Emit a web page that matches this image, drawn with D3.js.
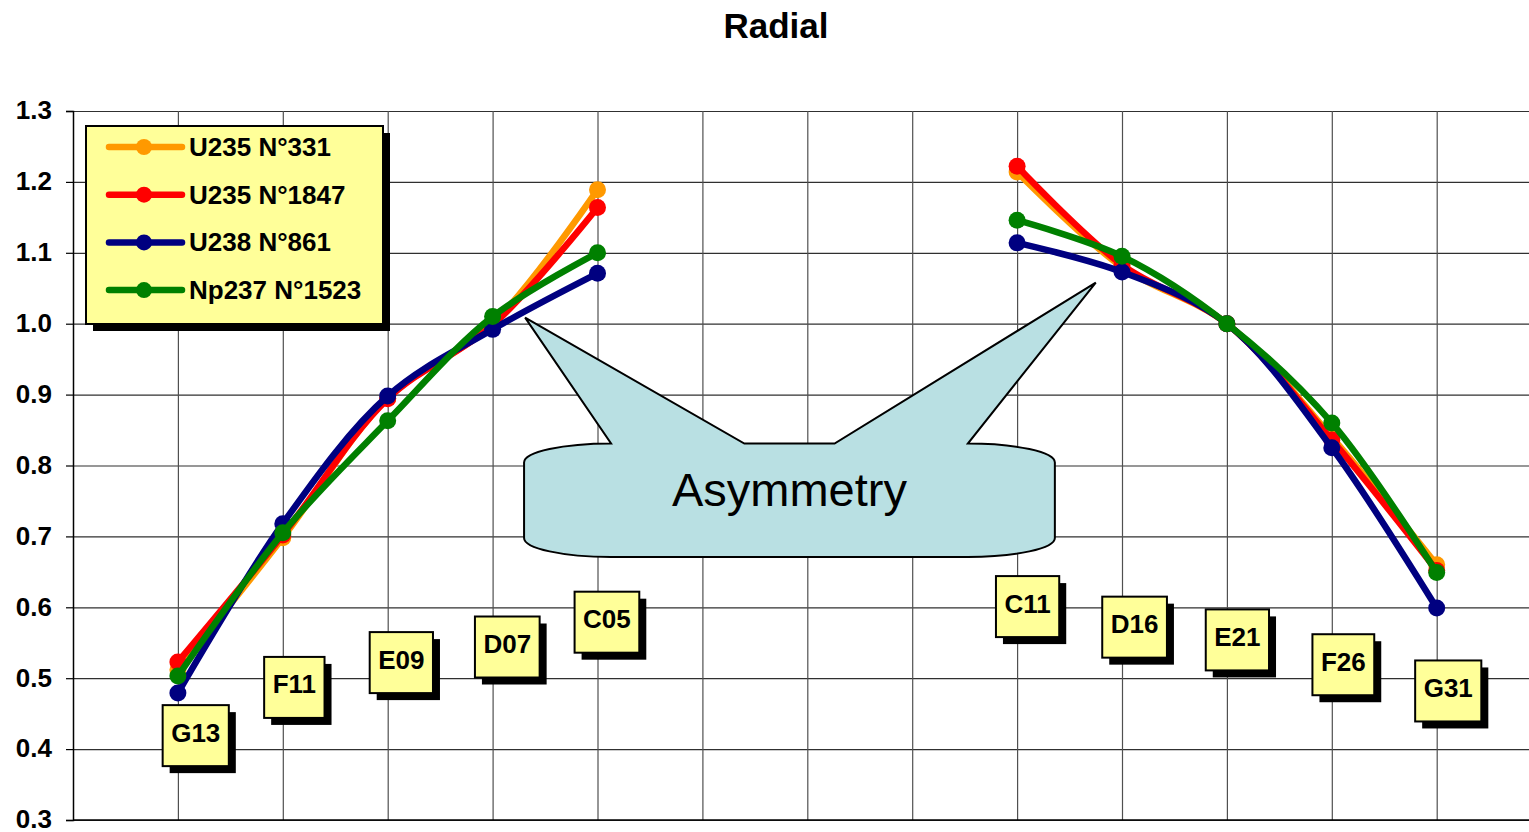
<!DOCTYPE html>
<html>
<head>
<meta charset="utf-8">
<script src="https://cdn.jsdelivr.net/npm/d3@7"></script>
<style>
body{margin:0;background:#fff;overflow:hidden;}
svg{display:block;font-family:"Liberation Sans",Arial,sans-serif;}
</style>
</head>
<body>
<div id="chart"></div>
<script>
// DATA
var title = "Radial";
var categories = ["G13", "F11", "E09", "D07", "C05", "", "", "", "C11", "D16", "E21", "F26", "G31"];
var seriesNames = ["U235 N°331", "U235 N°1847", "U238 N°861", "Np237 N°1523"];
var u235_331   = [0.512, 0.698, 0.895, 1.000, 1.189, null, null, null, 1.214, 1.080, 1.000, 0.840, 0.660];
var u235_1847  = [0.523, 0.702, 0.894, 0.998, 1.164, null, null, null, 1.222, 1.083, 1.000, 0.836, 0.652];
var u238_861   = [0.479, 0.718, 0.898, 0.992, 1.071, null, null, null, 1.114, 1.073, 1.000, 0.825, 0.599];
var np237_1523 = [0.503, 0.705, 0.863, 1.010, 1.100, null, null, null, 1.146, 1.095, 1.000, 0.860, 0.649];
var yTicks = [0.3, 0.4, 0.5, 0.6, 0.7, 0.8, 0.9, 1.0, 1.1, 1.2, 1.3];
var calloutText = "Asymmetry";

// LAYOUT OF THE CATEGORY LABEL BOXES: [x offset in category units, y centre in value units]
var labelPos = [[0.17, 0.419], [0.11, 0.487], [0.13, 0.522], [0.14, 0.544], [0.09, 0.579],
	null, null, null,
	[0.10, 0.601], [0.12, 0.572], [0.10, 0.554], [0.11, 0.519], [0.11, 0.482]];

var COLORS = ["#FF9900", "#FF0000", "#000080", "#008000"];
var W = 1529, H = 832;
var LEFT = 73, TOP = 111, BOTTOM = 820;
var STEP = 104.9;
var SHADOW = 7;

var svg = d3.select("#chart").append("svg").attr("width", W).attr("height", H);

var x = d3.scaleLinear().domain([0, 14]).range([LEFT, LEFT + 14 * STEP]);
var y = d3.scaleLinear().domain([0.3, 1.3]).range([BOTTOM, TOP]);

//TITLE
svg.append("text")
	.attr("x", 776).attr("y", 38)
	.attr("text-anchor", "middle")
	.style("font-size", "35px").style("font-weight", "bold")
	.text(title);

//GRID
var grid = svg.append("g");
grid.append("g")
	.attr("transform", "translate(" + LEFT + ",0)")
	.call(d3.axisLeft(y).tickValues(yTicks).tickSize(-(x(14) - LEFT)).tickFormat(""))
	.call(function(g){
		g.select(".domain").remove();
		g.selectAll("line").attr("stroke", "#303030").attr("stroke-width", 1.2);
	});
grid.append("g")
	.attr("transform", "translate(0," + BOTTOM + ")")
	.call(d3.axisBottom(x).tickValues(d3.range(1, 14)).tickSize(-(BOTTOM - TOP)).tickFormat(""))
	.call(function(g){
		g.select(".domain").remove();
		g.selectAll("line").attr("stroke", "#505050").attr("stroke-width", 1.2);
	});

//Y AXIS
svg.append("g")
	.attr("transform", "translate(" + LEFT + ",0)")
	.call(d3.axisLeft(y).tickValues(yTicks).tickSize(7).tickPadding(14).tickFormat(d3.format(".1f")))
	.call(function(g){
		g.select(".domain").attr("stroke", "#000").attr("stroke-width", 1.5);
		g.selectAll("line").attr("stroke", "#000").attr("stroke-width", 1.2);
		g.selectAll("text")
			.attr("fill", "#000")
			.attr("dy", "0.3em")
			.style("font-size", "26px").style("font-weight", "bold")
			.style("font-family", "'Liberation Sans',Arial,sans-serif");
	});

//X AXIS LINE
svg.append("line")
	.attr("x1", LEFT).attr("x2", W)
	.attr("y1", BOTTOM).attr("y2", BOTTOM)
	.attr("stroke", "#000").attr("stroke-width", 1.5);

//CALLOUT
(function(){
	var bl = x(4.30), br = x(9.36), bt = y(0.831), bb = y(0.671);
	var rx = 87, ry = 19;
	var tipL = [x(4.31), y(1.0085)], tipR = [x(9.75), y(1.058)];
	var path = "M" + bl + "," + (bt + ry) +
		"A" + rx + "," + ry + " 0 0 1 " + (bl + rx) + "," + bt +
		"L" + tipL[0] + "," + tipL[1] +
		"L" + x(6.40) + "," + bt +
		"L" + x(7.26) + "," + bt +
		"L" + tipR[0] + "," + tipR[1] +
		"L" + (br - rx) + "," + bt +
		"A" + rx + "," + ry + " 0 0 1 " + br + "," + (bt + ry) +
		"L" + br + "," + (bb - ry) +
		"A" + rx + "," + ry + " 0 0 1 " + (br - rx) + "," + bb +
		"L" + (bl + rx) + "," + bb +
		"A" + rx + "," + ry + " 0 0 1 " + bl + "," + (bb - ry) +
		"Z";
	var g = svg.append("g").attr("class", "callout");
	g.append("path")
		.attr("d", path)
		.attr("fill", "#B9E0E3")
		.attr("stroke", "#000")
		.attr("stroke-width", 2)
		.attr("stroke-linejoin", "miter");
	g.append("text")
		.attr("x", (bl + br) / 2).attr("y", bt + 62)
		.attr("text-anchor", "middle")
		.style("font-size", "47px")
		.text(calloutText);
})();

//SERIES
var allSeries = [u235_331, u235_1847, u238_861, np237_1523].map(function(values, si){
	return {
		name: seriesNames[si],
		color: COLORS[si],
		points: values.map(function(v, i){ return {i: i + 1, v: v}; })
	};
});

var line = d3.line()
	.defined(function(d){ return d.v != null; })
	.x(function(d){ return x(d.i); })
	.y(function(d){ return y(d.v); })
	.curve(d3.curveCatmullRom.alpha(0.5));

var sg = svg.selectAll("g.series")
	.data(allSeries)
	.enter()
	.append("g").attr("class", "series");

sg.append("path")
	.attr("d", function(s){ return line(s.points); })
	.attr("fill", "none")
	.attr("stroke", function(s){ return s.color; })
	.attr("stroke-width", 6.5)
	.attr("stroke-linejoin", "round")
	.attr("stroke-linecap", "round");

sg.selectAll("circle")
	.data(function(s){ return s.points.filter(function(d){ return d.v != null; }).map(function(d){ return {i: d.i, v: d.v, color: s.color}; }); })
	.enter()
	.append("circle")
	.attr("cx", function(d){ return x(d.i); })
	.attr("cy", function(d){ return y(d.v); })
	.attr("r", 8.5)
	.attr("fill", function(d){ return d.color; });

//CATEGORY LABEL BOXES
var labels = categories
	.map(function(c, i){ return {name: c, i: i + 1, pos: labelPos[i]}; })
	.filter(function(d){ return d.name && d.pos; });

var lg = svg.selectAll("g.catlabel")
	.data(labels)
	.enter()
	.append("g").attr("class", "catlabel")
	.attr("transform", function(d){ return "translate(" + x(d.i + d.pos[0]) + "," + y(d.pos[1]) + ")"; });

lg.each(function(d){
	var g = d3.select(this);
	var shadow = g.append("rect");
	var box = g.append("rect");
	var t = g.append("text")
		.attr("text-anchor", "middle")
		.attr("y", 6)
		.style("font-size", "26px").style("font-weight", "bold")
		.text(d.name);
	var w = t.node().getComputedTextLength() + 17;
	var h = 61;
	shadow.attr("x", -w / 2 + SHADOW).attr("y", -h / 2 + SHADOW).attr("width", w).attr("height", h).attr("fill", "#000");
	box.attr("x", -w / 2).attr("y", -h / 2).attr("width", w).attr("height", h)
		.attr("fill", "#FFFF99").attr("stroke", "#000").attr("stroke-width", 2);
});

//LEGEND
(function(){
	var lx = 86, ly = 126, lw = 297, lh = 198;
	var g = svg.append("g").attr("class", "legend");
	g.append("rect").attr("x", lx + SHADOW).attr("y", ly + SHADOW).attr("width", lw).attr("height", lh).attr("fill", "#000");
	g.append("rect").attr("x", lx).attr("y", ly).attr("width", lw).attr("height", lh)
		.attr("fill", "#FFFF99").attr("stroke", "#000").attr("stroke-width", 2);
	var rows = g.selectAll("g.row")
		.data(allSeries)
		.enter()
		.append("g").attr("class", "row")
		.attr("transform", function(s, i){ return "translate(" + lx + "," + (ly + 21 + i * 47.7) + ")"; });
	rows.append("line")
		.attr("x1", 23).attr("x2", 96)
		.attr("stroke", function(s){ return s.color; })
		.attr("stroke-width", 6.5)
		.attr("stroke-linecap", "round");
	rows.append("circle")
		.attr("cx", 58).attr("r", 8)
		.attr("fill", function(s){ return s.color; });
	rows.append("text")
		.attr("x", 103).attr("y", 9)
		.style("font-size", "26px").style("font-weight", "bold")
		.text(function(s){ return s.name; });
})();
</script>
</body>
</html>
